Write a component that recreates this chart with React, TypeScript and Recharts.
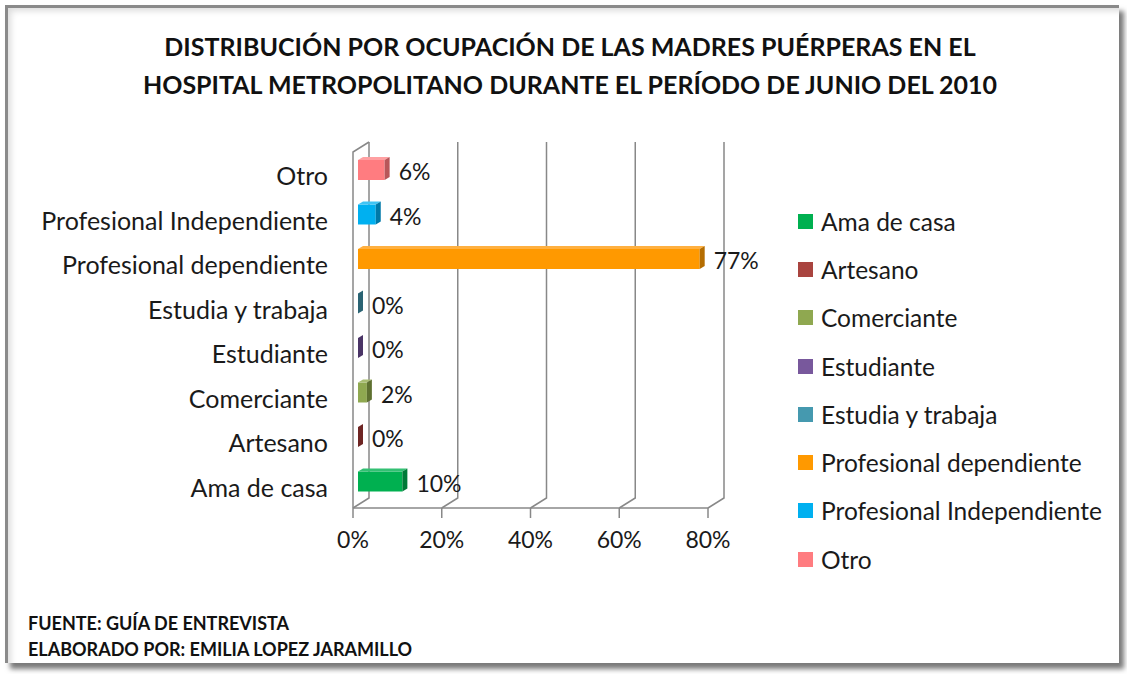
import React from 'react';
import { BarChart, Bar, XAxis, YAxis, CartesianGrid, Cell, LabelList } from 'recharts';

const categories = [
  'Ama de casa',
  'Artesano',
  'Comerciante',
  'Estudiante',
  'Estudia y trabaja',
  'Profesional dependiente',
  'Profesional Independiente',
  'Otro',
];
const percents = [10, 0, 2, 0, 0, 77, 4, 6];
const xTicks = [0, 20, 40, 60, 80];

const COLORS = ['#00B050', '#A9443F', '#8FA850', '#78589C', '#4599AF', '#FF9900', '#00B0F0', '#FF7C80'];
const SIDE = ['#007A38', '#6E2523', '#5E7030', '#4A3466', '#2A6373', '#B56D00', '#0079A8', '#B85659'];
const TOPS = ['#33C073', '#C06A66', '#A9BD73', '#9479B3', '#6DB2C4', '#FFB040', '#40C4F4', '#FFA0A2'];

const FONT = 'Lato, "Open Sans", sans-serif';
const DX = 5; // bar offset into depth
const DY = -4;
const DEPTH_X = 5;
const DEPTH_Y = -3;
const WALL_X = 16;
const WALL_Y = -10;
const GRID = '#888888';

// recharts draws categories top-down, reference has Ama de casa at the bottom
const data = categories.map((name, i) => ({ name, value: percents[i], idx: i })).reverse();

const Bar3D = (props: any) => {
  const { x, y, width, height, idx } = props;
  const bx = x + DX;
  const by = y + DY;
  const w = Math.max(width, 0);
  const front = `M${bx},${by} h${w} v${height} h${-w} Z`;
  const top = `M${bx},${by} l${DEPTH_X},${DEPTH_Y} h${w} l${-DEPTH_X},${-DEPTH_Y} Z`;
  const side = `M${bx + w},${by} l${DEPTH_X},${DEPTH_Y} v${height} l${-DEPTH_X},${-DEPTH_Y} Z`;
  return (
    <g>
      {w > 0 && <path d={front} fill={COLORS[idx]} />}
      {w > 0 && <path d={top} fill={TOPS[idx]} />}
      <path d={side} fill={SIDE[idx]} />
    </g>
  );
};

const ValueLabel = (props: any) => {
  const { x, y, width, height, value } = props;
  return (
    <text
      x={x + width + DX + DEPTH_X + 9}
      y={y + height / 2 + DY + 1}
      dominantBaseline="central"
      fontFamily={FONT}
      fontSize={23}
      fill="#1a1a1a"
    >
      {`${value}%`}
    </text>
  );
};

const WallLine = (props: any) => {
  const { x1, y1, y2, index } = props;
  return (
    <g stroke={GRID} strokeWidth={1.5} fill="none">
      <path d={`M${x1 + WALL_X},${y1 + WALL_Y} V${y2 + WALL_Y} L${x1},${y2}`} />
      {index === 0 && <path d={`M${x1},${y2} V${y1} L${x1 + WALL_X},${y1 + WALL_Y}`} />}
    </g>
  );
};

const CategoryTick = (props: any) => {
  const { x, y, payload } = props;
  return (
    <text x={x} y={y + 1} textAnchor="end" dominantBaseline="central" fontFamily={FONT} fontSize={25} fill="#1a1a1a">
      {payload.value}
    </text>
  );
};

const App: React.FC = () => {
  return (
    <div style={{ position: 'absolute', left: 0, top: 0, width: 1127, height: 674, background: '#fff' }}>
      <div
        style={{
          position: 'absolute',
          left: 5,
          top: 5,
          width: 1111,
          height: 655,
          borderTop: '3px solid #8a8a8a',
          borderLeft: '3px solid #8a8a8a',
          boxShadow: '5px 6px 5px #7a7a7a, inset 6px 6px 6px -3px #dddddd',
          background: '#fff',
        }}
      />
      <div
        style={{
          position: 'absolute',
          left: 0,
          top: 27,
          width: 1140,
          textAlign: 'center',
          fontFamily: FONT,
          fontWeight: 700,
          fontSize: 25,
          lineHeight: '38px',
          color: '#111',
        }}
      >
        DISTRIBUCIÓN POR OCUPACIÓN DE LAS MADRES PUÉRPERAS EN EL
        <br />
        HOSPITAL METROPOLITANO DURANTE EL PERÍODO DE JUNIO DEL 2010
      </div>
      <div
        style={{
          position: 'absolute',
          left: 28,
          top: 610,
          fontFamily: FONT,
          fontWeight: 700,
          fontSize: 18,
          lineHeight: '26px',
          color: '#111',
        }}
      >
        FUENTE: GUÍA DE ENTREVISTA
        <br />
        ELABORADO POR: EMILIA LOPEZ JARAMILLO
      </div>
      <div
        style={{
          position: 'absolute',
          left: 798,
          top: 197,
          fontFamily: FONT,
          fontSize: 24.5,
          color: '#1a1a1a',
        }}
      >
        {categories.map((c, i) => (
          <div key={c} style={{ display: 'flex', alignItems: 'center', height: 48.3, whiteSpace: 'nowrap' }}>
            <span style={{ width: 15, height: 15, background: COLORS[i], marginRight: 8, display: 'inline-block' }} />
            {c}
          </div>
        ))}
      </div>
      <div style={{ position: 'absolute', left: 0, top: 0 }}>
        <BarChart
          width={1127}
          height={674}
          data={data}
          layout="vertical"
          margin={{ top: 152, right: 419, bottom: 0, left: 0 }}
          barSize={20}
        >
          <CartesianGrid horizontal={false} vertical={WallLine as any} />
          <XAxis
            type="number"
            domain={[0, 80]}
            ticks={xTicks}
            tickFormatter={(v: number) => `${v}%`}
            axisLine={{ stroke: GRID, strokeWidth: 1.5 }}
            tickLine={{ stroke: GRID, strokeWidth: 1.5 }}
            tickSize={10}
            tickMargin={14}
            tick={{ fontFamily: FONT, fontSize: 23, fill: '#1a1a1a' }}
            height={166}
          />
          <YAxis
            type="category"
            dataKey="name"
            width={353}
            axisLine={false}
            tickLine={false}
            tickSize={0}
            tickMargin={25}
            tick={<CategoryTick />}
            interval={0}
          />
          <Bar dataKey="value" shape={<Bar3D />} isAnimationActive={false}>
            {data.map((d) => (
              <Cell key={d.name} fill={COLORS[d.idx]} />
            ))}
            <LabelList dataKey="value" content={<ValueLabel />} />
          </Bar>
        </BarChart>
      </div>
    </div>
  );
};

export default App;
